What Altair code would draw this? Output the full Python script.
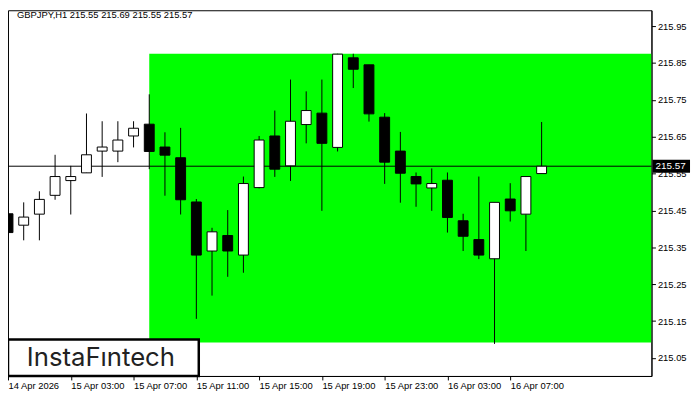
import altair as alt
import pandas as pd

# ---- data (hourly candles, GBPJPY H1) ----
idx = list(range(35))
opens = [215.441, 215.410, 215.440, 215.491, 215.531, 215.552, 215.611, 215.611, 215.652, 215.684,
         215.622, 215.593, 215.473, 215.340, 215.382, 215.329, 215.512, 215.652, 215.571, 215.683,
         215.714, 215.621, 215.864, 215.845, 215.703, 215.611, 215.542, 215.511, 215.532, 215.422,
         215.371, 215.319, 215.481, 215.440, 215.55]
highs = [215.502, 215.472, 215.502, 215.601, 215.571, 215.713, 215.692, 215.692, 215.692, 215.765,
         215.662, 215.674, 215.481, 215.403, 215.451, 215.542, 215.652, 215.721, 215.805, 215.773,
         215.805, 215.875, 215.875, 215.845, 215.714, 215.663, 215.553, 215.564, 215.553, 215.441,
         215.542, 215.472, 215.524, 215.542, 215.69]
lows = [215.380, 215.369, 215.369, 215.479, 215.439, 215.552, 215.541, 215.581, 215.621, 215.562,
        215.490, 215.439, 215.156, 215.219, 215.270, 215.281, 215.510, 215.541, 215.530, 215.632,
        215.449, 215.610, 215.782, 215.691, 215.522, 215.471, 215.460, 215.449, 215.390, 215.340,
        215.318, 215.088, 215.420, 215.340, 215.55]
closes = [215.390, 215.432, 215.480, 215.542, 215.542, 215.601, 215.622, 215.641, 215.673, 215.610,
          215.600, 215.479, 215.329, 215.392, 215.340, 215.523, 215.641, 215.562, 215.692, 215.721,
          215.632, 215.874, 215.833, 215.712, 215.581, 215.551, 215.522, 215.523, 215.431, 215.380,
          215.329, 215.472, 215.449, 215.542, 215.57]

x_tick_pos = [0, 4, 8, 12, 16, 20, 24, 28, 32]
x_tick_labels = ["14 Apr 2026", "15 Apr 03:00", "15 Apr 07:00", "15 Apr 11:00", "15 Apr 15:00",
                 "15 Apr 19:00", "15 Apr 23:00", "16 Apr 03:00", "16 Apr 07:00"]
y_ticks = [215.05, 215.15, 215.25, 215.35, 215.45, 215.55, 215.65, 215.75, 215.85, 215.95]

zone_start = [9]
zone_end = [41]
zone_low = [215.092]
zone_high = [215.875]
last_price = [215.57]
header = "GBPJPY,H1  215.55 215.69 215.55 215.57"
brand = "InstaFıntech"

# ---- build tables ----
df = pd.DataFrame({"i": idx, "open": opens, "high": highs, "low": lows, "close": closes})
df["fill"] = ["white" if c >= o else "black" for o, c in zip(opens, closes)]
zone = pd.DataFrame({"x": zone_start, "x2": zone_end, "y": zone_low, "y2": zone_high})
lp = pd.DataFrame({"p": last_price, "ptop": [last_price[0] + 0.0175], "pbot": [last_price[0] - 0.0175],
                   "txt": [f"{last_price[0]:.2f}"]})

W, H = 651, 370
FONT = "Liberation Sans"
xs = alt.Scale(domain=[0, 41], nice=False, zero=False, padding=0)
ys = alt.Scale(domain=[215.001, 215.993], nice=False, zero=False, padding=0)

lab_js = "[" + ",".join(f"'{s}'" for s in x_tick_labels) + "]"
xaxis = alt.Axis(values=x_tick_pos, labelExpr=f"{lab_js}[round(datum.value/4)]", title=None,
                 grid=False, tickSize=4, tickColor="black", domainColor="black", labelColor="black",
                 labelFont=FONT, labelFontSize=9.5, labelAlign="left", labelBaseline="top",
                 labelPadding=1, labelFlush=False, labelOverlap=False)
yaxis = alt.Axis(values=y_ticks, format=".2f", orient="right", title=None, grid=False, tickSize=4,
                 tickColor="black", domainColor="black", labelColor="black", labelFont=FONT,
                 labelFontSize=9.5, labelPadding=2, labelFlush=False, labelOverlap=False)


def X(f):
    return alt.X(f, type="quantitative", scale=xs, axis=xaxis)


def Y(f):
    return alt.Y(f, type="quantitative", scale=ys, axis=yaxis)


green = alt.Chart(zone).mark_rect(color="#00FF00", clip=True).encode(
    x=X("x"), x2="x2", y=Y("y"), y2="y2")

wicks = alt.Chart(df).mark_rule(color="black", strokeWidth=1, clip=True).encode(
    x=X("i"), y=Y("low"), y2="high")

bodies = alt.Chart(df).mark_bar(width=10, stroke="black", strokeWidth=1, clip=True).encode(
    x=X("i"), y=Y("open"), y2="close", fill=alt.Fill("fill:N", scale=None))

hline = alt.Chart(lp).mark_rule(color="black", strokeWidth=1).encode(y=Y("p"))

price_box = alt.Chart(lp).mark_rect(color="black", clip=False).encode(
    x=alt.value(652), x2=alt.value(690), y=Y("ptop"), y2="pbot")
price_txt = alt.Chart(lp).mark_text(color="white", font=FONT, fontSize=10, align="left",
                                    baseline="middle", clip=False).encode(
    x=alt.value(655), y=Y("p"), text="txt:N")

hdr = alt.Chart(pd.DataFrame({"t": [header]})).mark_text(
    align="left", baseline="middle", font=FONT, fontSize=9.5, color="black").encode(
    x=alt.value(9), y=alt.value(5), text="t:N")

logo_box = alt.Chart(pd.DataFrame({"a": [1]})).mark_rect(
    fill="white", stroke="black", strokeWidth=2.5).encode(
    x=alt.value(0), x2=alt.value(193), y=alt.value(333), y2=alt.value(370))
logo_txt = alt.Chart(pd.DataFrame({"t": [brand]})).mark_text(
    align="center", baseline="alphabetic", font="Inter", fontSize=26, color="#222222").encode(
    x=alt.value(94), y=alt.value(360), text="t:N")

chart = alt.layer(green, hline, wicks, bodies, price_box, price_txt, hdr, logo_box, logo_txt).properties(
    width=W, height=H,
    autosize=alt.AutoSizeParams(type="none"),
    padding={"left": 0, "top": 0, "right": 41, "bottom": 22},
    background="white",
).configure_view(stroke="black", strokeWidth=1)

chart.save("out.html", embed_options={"renderer": "svg", "actions": False})
